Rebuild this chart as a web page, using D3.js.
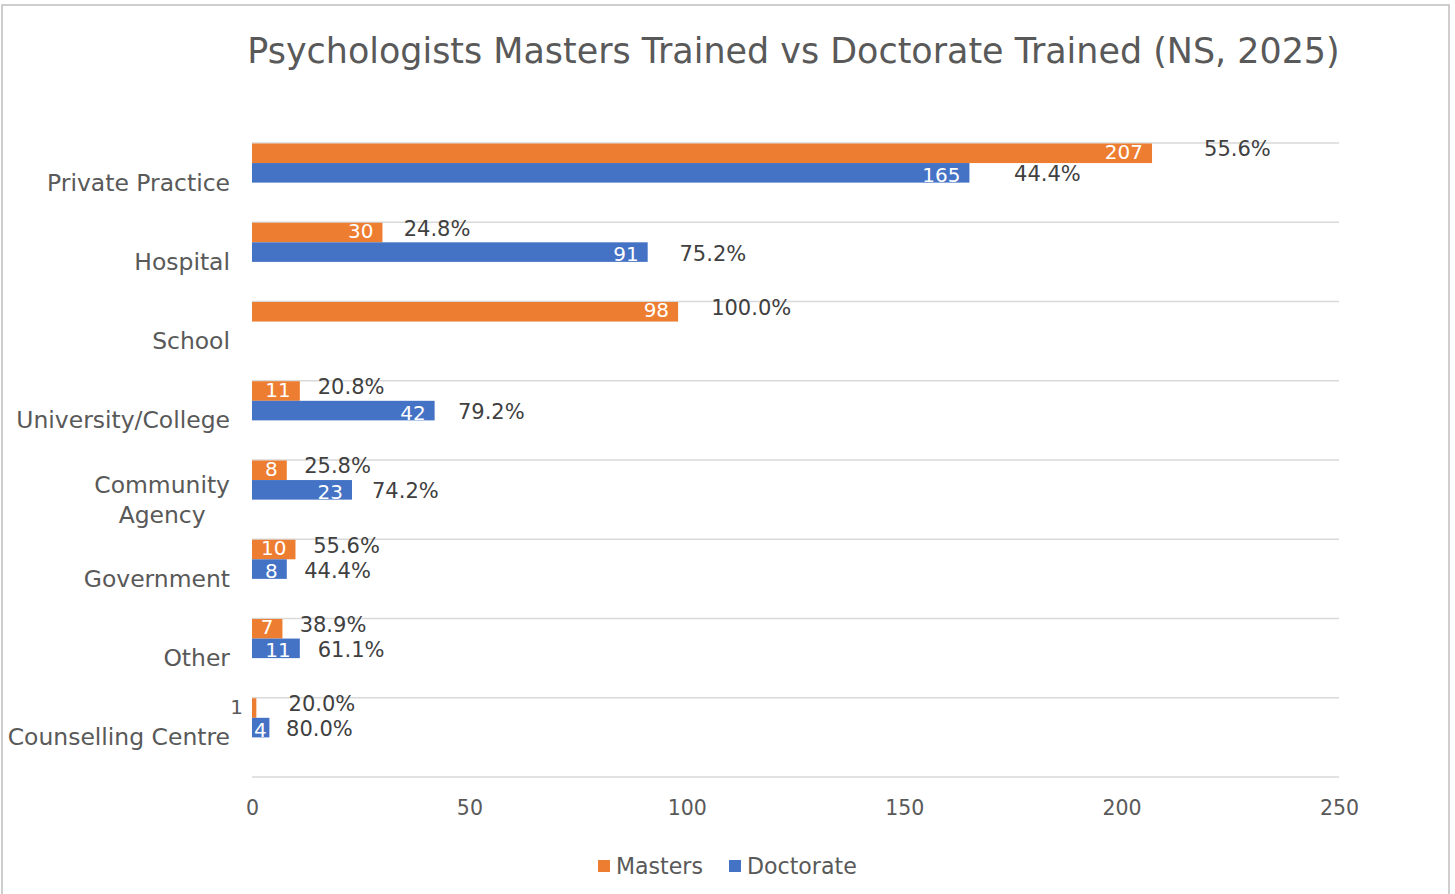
<!DOCTYPE html>
<html>
<head>
<meta charset="utf-8">
<script src="https://cdn.jsdelivr.net/npm/d3@7"></script>
<style>
  html, body { margin: 0; padding: 0; background: #fff; }
  svg { display: block; }
</style>
</head>
<body>
<svg id="chart" width="1455" height="894"></svg>
<script>
const categories = ["Private Practice", "Hospital", "School", "University/College", "Community Agency", "Government", "Other", "Counselling Centre"];
const seriesNames = ["Masters", "Doctorate"];
const masters   = [207, 30, 98, 11, 8, 10, 7, 1];
const doctorate = [165, 91, 0, 42, 23, 8, 11, 4];
const xTicks = [0, 50, 100, 150, 200, 250];
const titleText = "Psychologists Masters Trained vs Doctorate Trained (NS, 2025)";

const colors = { Masters: "#ED7D31", Doctorate: "#4472C4" };
const FONT = "'DejaVu Sans', 'Liberation Sans', sans-serif";
const textGray = "#595959";
const pctGray = "#404040";

const svg = d3.select("#chart");

const ctx = document.createElement("canvas").getContext("2d");
function measure(text, size) { ctx.font = `${size}px 'DejaVu Sans'`; return ctx.measureText(text).width; }

// chart border
svg.append("rect").attr("x", 2).attr("y", 5).attr("width", 1447).attr("height", 900)
  .attr("fill", "#fff").attr("stroke", "#BFBFBF").attr("stroke-width", 1.5);

const plot = { left: 252, right: 1339, top: 143, bottom: 777 };

const x = d3.scaleLinear().domain([0, 250]).range([plot.left, plot.right]);
const y = d3.scaleBand().domain(categories).range([plot.top, plot.bottom]).paddingInner(0).paddingOuter(0);
const inner = d3.scaleBand().domain(["Masters", "Doctorate", "h1", "h2"]).range([0, y.bandwidth()]).paddingOuter(0.025);

// title (fit to width)
const titleSize = 1093 / measure(titleText, 100) * 100;
svg.append("text").attr("x", (plot.left + plot.right) / 2 - 2).attr("y", 51)
  .attr("text-anchor", "middle").attr("dominant-baseline", "central")
  .attr("font-family", FONT).attr("font-size", titleSize).attr("fill", textGray)
  .text(titleText);

// gridlines at band boundaries
const gridYs = categories.map(c => y(c)).concat([y(categories[categories.length - 1]) + y.bandwidth()]);
svg.append("g").selectAll("line").data(gridYs).join("line")
  .attr("x1", plot.left).attr("x2", plot.right)
  .attr("y1", d => d).attr("y2", d => d)
  .attr("stroke", "#D9D9D9").attr("stroke-width", 1.5);

// x axis tick labels
const xAxis = d3.axisBottom(x).tickValues(xTicks).tickSize(0).tickPadding(0).tickFormat(d3.format("d"));
const gx = svg.append("g").attr("transform", `translate(0, 808)`).call(xAxis);
gx.select(".domain").remove();
gx.selectAll("text").attr("font-family", FONT).attr("font-size", 20.5).attr("fill", textGray)
  .attr("dy", null).attr("dominant-baseline", "central");

// category labels
const catSize = 183 / measure("Private Practice", 100) * 100;
const catG = svg.append("g");
categories.forEach(c => {
  const cy = y(c) + y.bandwidth() / 2;
  const words = c === "Community Agency" ? ["Community", "Agency"] : [c];
  if (words.length === 1) {
    catG.append("text").attr("x", 230).attr("y", cy).attr("text-anchor", "end")
      .attr("dominant-baseline", "central").attr("font-family", FONT).attr("font-size", catSize)
      .attr("fill", textGray).text(c);
  } else {
    const wMax = d3.max(words, w => measure(w, catSize));
    const cx = 230 - wMax / 2;
    words.forEach((w, i) => {
      catG.append("text").attr("x", cx).attr("y", cy + (i - (words.length - 1) / 2) * 30)
        .attr("text-anchor", "middle").attr("dominant-baseline", "central")
        .attr("font-family", FONT).attr("font-size", catSize).attr("fill", textGray).text(w);
    });
  }
});

// bars and labels
const valSize = 20, pctSize = 21;
const rows = [];
categories.forEach((c, i) => {
  const total = masters[i] + doctorate[i];
  [["Masters", masters[i]], ["Doctorate", doctorate[i]]].forEach(([s, v]) => {
    rows.push({ cat: c, series: s, value: v, pct: total ? v / total : 0 });
  });
});
const data = rows.filter(d => d.value > 0);

const barG = svg.append("g");
barG.selectAll("rect").data(data).join("rect")
  .attr("x", x(0))
  .attr("y", d => y(d.cat) + inner(d.series))
  .attr("width", d => x(d.value) - x(0))
  .attr("height", inner.bandwidth())
  .attr("fill", d => colors[d.series]);

const labG = svg.append("g");
data.forEach(d => {
  const cy = y(d.cat) + inner(d.series) + inner.bandwidth() / 2;
  const isM = d.series === "Masters";
  const barW = x(d.value) - x(0);
  const txt = String(d.value);
  const tw = measure(txt, valSize);
  const outside = barW < tw;
  let vx, fill;
  if (outside) { vx = x(0) - 9; fill = textGray; }
  else { vx = x(d.value) - Math.max(1, Math.min(9, barW - tw - 2)); fill = "#fff"; }
  labG.append("text").attr("x", vx).attr("y", cy + (isM ? -1.5 : 2)).attr("text-anchor", "end")
    .attr("dominant-baseline", "central").attr("font-family", FONT).attr("font-size", valSize)
    .attr("fill", fill).text(txt);
  const px = x(d.value * 1.04) + 16 + (outside ? 16 : 0);
  labG.append("text").attr("x", px).attr("y", cy + (isM ? -4 : 1.5)).attr("text-anchor", "start")
    .attr("dominant-baseline", "central").attr("font-family", FONT).attr("font-size", pctSize)
    .attr("fill", pctGray).text(d3.format(".1%")(d.pct));
});

// legend
const legSize = 87 / measure("Masters", 100) * 100;
const sq = 12, gapSq = 6;
const legStarts = [598, 729];
const legG = svg.append("g");
seriesNames.forEach((s, i) => {
  const lx = legStarts[i];
  legG.append("rect").attr("x", lx).attr("y", 860).attr("width", sq).attr("height", sq).attr("fill", colors[s]);
  legG.append("text").attr("x", lx + sq + gapSq).attr("y", 866).attr("dominant-baseline", "central")
    .attr("font-family", FONT).attr("font-size", legSize).attr("fill", textGray).text(s);
});
</script>
</body>
</html>
